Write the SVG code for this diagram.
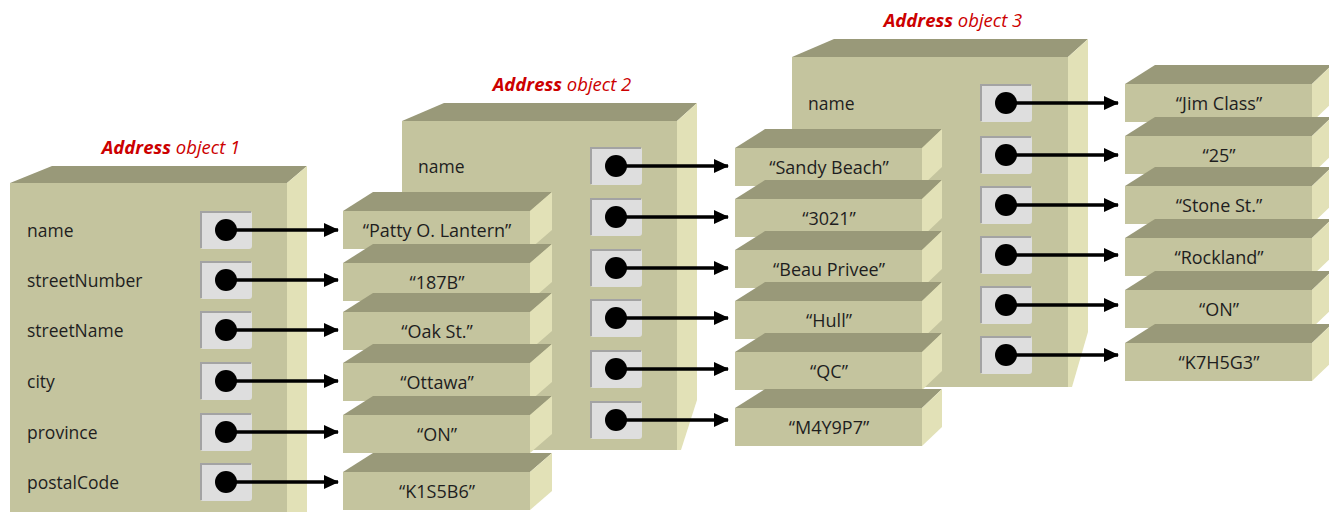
<svg xmlns="http://www.w3.org/2000/svg" width="1329" height="512" viewBox="0 0 1329 512">
<defs>
<style>
.front{fill:#c4c49e}
.top{fill:#999979}
.side{fill:#e2e1b7}
.slot{fill:#dedede}
.slotedge{fill:none;stroke:#a3a3a3;stroke-width:2}
.dot{fill:#000}
.arrow{stroke:#000;stroke-width:3.5;fill:none;marker-end:url(#ah)}
.lbl{font-family:"Open Sans","Liberation Sans",sans-serif;font-size:17.5px;fill:#1e1e1e;dominant-baseline:central}
.val{font-family:"Open Sans","Liberation Sans",sans-serif;font-size:18px;fill:#1e1e1e;text-anchor:middle;dominant-baseline:central}
.title{font-family:"Open Sans","Liberation Sans",sans-serif;font-size:18.5px;font-style:italic;fill:#cc0000;text-anchor:middle;dominant-baseline:central}
.title tspan.b{font-weight:bold}
</style>
<marker id="ah" markerUnits="userSpaceOnUse" markerWidth="15" markerHeight="14" refX="14" refY="7" orient="auto">
<path d="M0,0 L15,7 L0,14 Z" fill="#000"/>
</marker>
</defs>

<!-- Address object 3 -->
<g id="obj3">
<text class="title" x="953" y="19"><tspan class="b">Address</tspan> object 3</text>
<polygon class="top" points="792,57 834,39 1088,39 1068,57"/>
<polygon class="side" points="1068,57 1088,39 1088,332 1072,387 1068,387"/>
<rect class="front" x="792" y="57" width="276" height="330"/>
<text class="lbl" x="808" y="103">name</text>
</g>
<g id="obj3-slots">
<g><rect class="slot" x="980" y="84" width="52" height="38" rx="3"/><path class="slotedge" d="M981,121 V85 H1031"/><circle class="dot" cx="1006" cy="103" r="11"/></g>
<g><rect class="slot" x="980" y="136" width="52" height="38" rx="3"/><path class="slotedge" d="M981,173 V137 H1031"/><circle class="dot" cx="1006" cy="155" r="11"/></g>
<g><rect class="slot" x="980" y="186" width="52" height="38" rx="3"/><path class="slotedge" d="M981,223 V187 H1031"/><circle class="dot" cx="1006" cy="205" r="11"/></g>
<g><rect class="slot" x="980" y="236" width="52" height="38" rx="3"/><path class="slotedge" d="M981,273 V237 H1031"/><circle class="dot" cx="1006" cy="255" r="11"/></g>
<g><rect class="slot" x="980" y="286" width="52" height="38" rx="3"/><path class="slotedge" d="M981,323 V287 H1031"/><circle class="dot" cx="1006" cy="305" r="11"/></g>
<g><rect class="slot" x="980" y="336" width="52" height="38" rx="3"/><path class="slotedge" d="M981,373 V337 H1031"/><circle class="dot" cx="1006" cy="355" r="11"/></g>
</g>
<g id="obj3-values">
<g id="v3-1"><polygon class="top" points="1125,84 1155,65 1332,65 1312,84"/><polygon class="side" points="1312,84 1332,65 1332,103 1312,122"/><rect class="front" x="1125" y="84" width="187" height="38"/><text class="val" x="1219" y="103">“Jim Class”</text></g>
<g id="v3-2"><polygon class="top" points="1125,136 1155,117 1332,117 1312,136"/><polygon class="side" points="1312,136 1332,117 1332,155 1312,174"/><rect class="front" x="1125" y="136" width="187" height="38"/><text class="val" x="1219" y="155">“25”</text></g>
<g id="v3-3"><polygon class="top" points="1125,186 1155,167 1332,167 1312,186"/><polygon class="side" points="1312,186 1332,167 1332,205 1312,224"/><rect class="front" x="1125" y="186" width="187" height="38"/><text class="val" x="1219" y="205">“Stone St.”</text></g>
<g id="v3-4"><polygon class="top" points="1125,238 1155,219 1332,219 1312,238"/><polygon class="side" points="1312,238 1332,219 1332,257 1312,276"/><rect class="front" x="1125" y="238" width="187" height="38"/><text class="val" x="1219" y="257">“Rockland”</text></g>
<g id="v3-5"><polygon class="top" points="1125,290 1155,271 1332,271 1312,290"/><polygon class="side" points="1312,290 1332,271 1332,309 1312,328"/><rect class="front" x="1125" y="290" width="187" height="38"/><text class="val" x="1219" y="309">“ON”</text></g>
<g id="v3-6"><polygon class="top" points="1125,343 1155,324 1332,324 1312,343"/><polygon class="side" points="1312,343 1332,324 1332,362 1312,381"/><rect class="front" x="1125" y="343" width="187" height="38"/><text class="val" x="1219" y="362">“K7H5G3”</text></g>
</g>

<!-- Address object 2 -->
<g id="obj2">
<text class="title" x="562" y="83"><tspan class="b">Address</tspan> object 2</text>
<polygon class="top" points="402,121 444,103 697,103 677,121"/>
<polygon class="side" points="677,121 697,103 697,400 681,450 677,450"/>
<rect class="front" x="402" y="121" width="275" height="329"/>
<text class="lbl" x="418" y="166">name</text>
</g>
<g id="obj2-slots">
<g><rect class="slot" x="590" y="147" width="52" height="38" rx="3"/><path class="slotedge" d="M591,184 V148 H641"/><circle class="dot" cx="616" cy="166" r="11"/></g>
<g><rect class="slot" x="590" y="198" width="52" height="38" rx="3"/><path class="slotedge" d="M591,235 V199 H641"/><circle class="dot" cx="616" cy="217" r="11"/></g>
<g><rect class="slot" x="590" y="249" width="52" height="38" rx="3"/><path class="slotedge" d="M591,286 V250 H641"/><circle class="dot" cx="616" cy="268" r="11"/></g>
<g><rect class="slot" x="590" y="299" width="52" height="38" rx="3"/><path class="slotedge" d="M591,336 V300 H641"/><circle class="dot" cx="616" cy="318" r="11"/></g>
<g><rect class="slot" x="590" y="350" width="52" height="38" rx="3"/><path class="slotedge" d="M591,387 V351 H641"/><circle class="dot" cx="616" cy="369" r="11"/></g>
<g><rect class="slot" x="590" y="401" width="52" height="38" rx="3"/><path class="slotedge" d="M591,438 V402 H641"/><circle class="dot" cx="616" cy="420" r="11"/></g>
</g>
<g id="obj2-values">
<g id="v2-1"><polygon class="top" points="735,148 765,129 942,129 922,148"/><polygon class="side" points="922,148 942,129 942,167 922,186"/><rect class="front" x="735" y="148" width="187" height="38"/><text class="val" x="829" y="167">“Sandy Beach”</text></g>
<g id="v2-2"><polygon class="top" points="735,199 765,180 942,180 922,199"/><polygon class="side" points="922,199 942,180 942,218 922,237"/><rect class="front" x="735" y="199" width="187" height="38"/><text class="val" x="829" y="218">“3021”</text></g>
<g id="v2-3"><polygon class="top" points="735,250 765,231 942,231 922,250"/><polygon class="side" points="922,250 942,231 942,269 922,288"/><rect class="front" x="735" y="250" width="187" height="38"/><text class="val" x="829" y="269">“Beau Privee”</text></g>
<g id="v2-4"><polygon class="top" points="735,301 765,282 942,282 922,301"/><polygon class="side" points="922,301 942,282 942,320 922,339"/><rect class="front" x="735" y="301" width="187" height="38"/><text class="val" x="829" y="320">“Hull”</text></g>
<g id="v2-5"><polygon class="top" points="735,352 765,333 942,333 922,352"/><polygon class="side" points="922,352 942,333 942,371 922,390"/><rect class="front" x="735" y="352" width="187" height="38"/><text class="val" x="829" y="371">“QC”</text></g>
<g id="v2-6"><polygon class="top" points="735,408 765,389 942,389 922,408"/><polygon class="side" points="922,408 942,389 942,427 922,446"/><rect class="front" x="735" y="408" width="187" height="38"/><text class="val" x="829" y="427">“M4Y9P7”</text></g>
</g>

<!-- Address object 1 -->
<g id="obj1">
<text class="title" x="171" y="146"><tspan class="b">Address</tspan> object 1</text>
<polygon class="top" points="10,183 52,166 307,166 287,183"/>
<polygon class="side" points="287,183 307,166 307,512 287,512"/>
<rect class="front" x="10" y="183" width="277" height="329"/>
<text class="lbl" x="27" y="230">name</text>
<text class="lbl" x="27" y="280">streetNumber</text>
<text class="lbl" x="27" y="330">streetName</text>
<text class="lbl" x="27" y="381">city</text>
<text class="lbl" x="27" y="432">province</text>
<text class="lbl" x="27" y="482">postalCode</text>
</g>
<g id="obj1-slots">
<g><rect class="slot" x="200" y="211" width="52" height="38" rx="3"/><path class="slotedge" d="M201,248 V212 H251"/><circle class="dot" cx="226" cy="230" r="11"/></g>
<g><rect class="slot" x="200" y="261" width="52" height="38" rx="3"/><path class="slotedge" d="M201,298 V262 H251"/><circle class="dot" cx="226" cy="280" r="11"/></g>
<g><rect class="slot" x="200" y="311" width="52" height="38" rx="3"/><path class="slotedge" d="M201,348 V312 H251"/><circle class="dot" cx="226" cy="330" r="11"/></g>
<g><rect class="slot" x="200" y="362" width="52" height="38" rx="3"/><path class="slotedge" d="M201,399 V363 H251"/><circle class="dot" cx="226" cy="381" r="11"/></g>
<g><rect class="slot" x="200" y="413" width="52" height="38" rx="3"/><path class="slotedge" d="M201,450 V414 H251"/><circle class="dot" cx="226" cy="432" r="11"/></g>
<g><rect class="slot" x="200" y="463" width="52" height="38" rx="3"/><path class="slotedge" d="M201,500 V464 H251"/><circle class="dot" cx="226" cy="482" r="11"/></g>
</g>
<g id="obj1-values">
<g id="v1-1"><polygon class="top" points="343,211 373,192 552,192 530,211"/><polygon class="side" points="530,211 552,192 552,230 530,249"/><rect class="front" x="343" y="211" width="187" height="38"/><text class="val" x="437" y="230">“Patty O. Lantern”</text></g>
<g id="v1-2"><polygon class="top" points="343,263 373,244 552,244 530,263"/><polygon class="side" points="530,263 552,244 552,282 530,301"/><rect class="front" x="343" y="263" width="187" height="38"/><text class="val" x="437" y="282">“187B”</text></g>
<g id="v1-3"><polygon class="top" points="343,312 373,293 552,293 530,312"/><polygon class="side" points="530,312 552,293 552,331 530,350"/><rect class="front" x="343" y="312" width="187" height="38"/><text class="val" x="437" y="331">“Oak St.”</text></g>
<g id="v1-4"><polygon class="top" points="343,363 373,344 552,344 530,363"/><polygon class="side" points="530,363 552,344 552,382 530,401"/><rect class="front" x="343" y="363" width="187" height="38"/><text class="val" x="437" y="382">“Ottawa”</text></g>
<g id="v1-5"><polygon class="top" points="343,415 373,396 552,396 530,415"/><polygon class="side" points="530,415 552,396 552,434 530,453"/><rect class="front" x="343" y="415" width="187" height="38"/><text class="val" x="437" y="434">“ON”</text></g>
<g id="v1-6"><polygon class="top" points="343,472 373,453 552,453 530,472"/><polygon class="side" points="530,472 552,453 552,491 530,510"/><rect class="front" x="343" y="472" width="187" height="38"/><text class="val" x="437" y="491">“K1S5B6”</text></g>
</g>

<g id="connectors">
<line class="arrow" x1="226" y1="230" x2="338" y2="230"/>
<line class="arrow" x1="226" y1="280" x2="338" y2="280"/>
<line class="arrow" x1="226" y1="330" x2="338" y2="330"/>
<line class="arrow" x1="226" y1="381" x2="338" y2="381"/>
<line class="arrow" x1="226" y1="432" x2="338" y2="432"/>
<line class="arrow" x1="226" y1="482" x2="338" y2="482"/>
<line class="arrow" x1="616" y1="166" x2="728" y2="166"/>
<line class="arrow" x1="616" y1="217" x2="728" y2="217"/>
<line class="arrow" x1="616" y1="268" x2="728" y2="268"/>
<line class="arrow" x1="616" y1="318" x2="728" y2="318"/>
<line class="arrow" x1="616" y1="369" x2="728" y2="369"/>
<line class="arrow" x1="616" y1="420" x2="728" y2="420"/>
<line class="arrow" x1="1006" y1="103" x2="1118" y2="103"/>
<line class="arrow" x1="1006" y1="155" x2="1118" y2="155"/>
<line class="arrow" x1="1006" y1="205" x2="1118" y2="205"/>
<line class="arrow" x1="1006" y1="255" x2="1118" y2="255"/>
<line class="arrow" x1="1006" y1="305" x2="1118" y2="305"/>
<line class="arrow" x1="1006" y1="355" x2="1118" y2="355"/>
</g>
</svg>
